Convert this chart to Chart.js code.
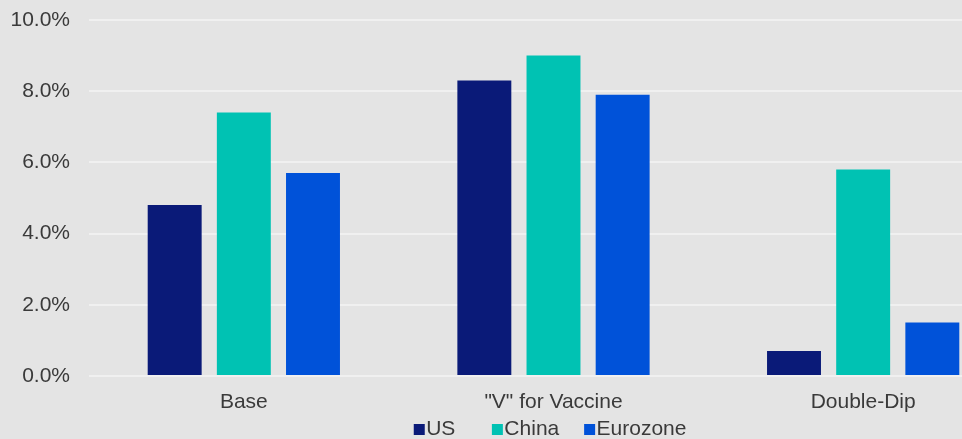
<!DOCTYPE html>
<html>
<head>
<meta charset="utf-8">
<script src="https://cdn.jsdelivr.net/npm/chart.js@4"></script>
<style>
  html, body { margin: 0; padding: 0; background: #e4e4e4; overflow: hidden; width: 962px; height: 439px; }
  #wrap { width: 1018px; height: 439px; position: relative; }
</style>
</head>
<body>
<div id="wrap"><canvas id="growth"></canvas></div>
<script>
// Scenario growth forecasts (%)
const scenarios = ['Base', '"V" for Vaccine', 'Double-Dip'];
const usGrowth = [4.8, 8.3, 0.7];
const chinaGrowth = [7.4, 9.0, 5.8];
const eurozoneGrowth = [5.7, 7.9, 1.5];
const yTicks = [0, 2, 4, 6, 8, 10];

const colors = { us: '#0a1a78', china: '#00c2b3', eurozone: '#0052d9' };
const textColor = '#3a3a3a';
const font = { family: "'Liberation Sans', Arial, sans-serif", size: 21 };

// Trailing spaces widen each legend entry so the items spread out
const legendSpacing = ['      ', '    ', ' '];

// Small square legend marker sitting right next to its label
function marker(color) {
  const c = document.createElement('canvas');
  c.width = 21; c.height = 11;
  const g = c.getContext('2d');
  g.fillStyle = color;
  g.fillRect(9, 0, 11, 11);
  return c;
}
const markers = [marker(colors.us), marker(colors.china), marker(colors.eurozone)];

const background = {
  id: 'background',
  beforeDraw(chart) {
    const { ctx, width, height } = chart;
    ctx.save();
    ctx.fillStyle = '#e4e4e4';
    ctx.fillRect(0, 0, width, height);
    ctx.restore();
  }
};

new Chart(document.getElementById('growth'), {
  type: 'bar',
  data: {
    labels: scenarios,
    datasets: [
      { label: 'US', data: usGrowth, backgroundColor: colors.us },
      { label: 'China', data: chinaGrowth, backgroundColor: colors.china },
      { label: 'Eurozone', data: eurozoneGrowth, backgroundColor: colors.eurozone }
    ]
  },
  options: {
    responsive: true,
    maintainAspectRatio: false,
    animation: false,
    layout: { padding: { top: 20, right: 0, bottom: 0, left: 0 } },
    datasets: { bar: { categoryPercentage: 0.67, barPercentage: 0.78 } },
    scales: {
      x: {
        grid: { display: false },
        border: { display: false },
        afterFit(scale) { scale.height = 40; },
        ticks: { color: textColor, font, padding: 6 }
      },
      y: {
        min: 0,
        max: 10,
        afterBuildTicks(scale) { scale.ticks = yTicks.map(v => ({ value: v })); },
        afterFit(scale) {
          scale.width = 89;
          scale.paddingTop = 0;
          scale.paddingBottom = 0;
        },
        grid: { color: '#f0f0f0', lineWidth: 2, drawTicks: false },
        border: { display: false },
        ticks: {
          color: textColor,
          font,
          padding: 19,
          callback: v => v.toFixed(1) + '%'
        }
      }
    },
    plugins: {
      tooltip: { enabled: false },
      legend: {
        position: 'bottom',
        fullSize: false,
        maxHeight: 23,
        labels: {
          color: textColor,
          font,
          usePointStyle: true,
          boxWidth: 1,
          boxHeight: 11,
          padding: 2.5,
          generateLabels(chart) {
            const items = Chart.defaults.plugins.legend.labels.generateLabels(chart);
            items.forEach((it, i) => {
              it.pointStyle = markers[i];
              it.text = it.text + legendSpacing[i];
            });
            return items;
          }
        }
      }
    }
  },
  plugins: [background]
});
</script>
</body>
</html>
